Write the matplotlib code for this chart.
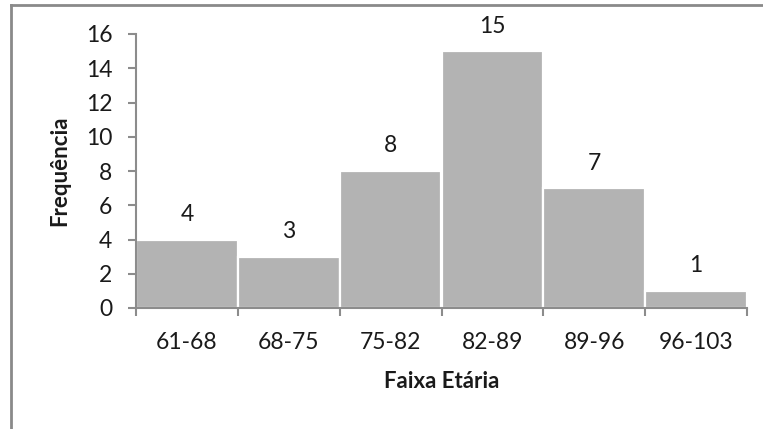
import matplotlib
matplotlib.use("Agg")
import matplotlib.pyplot as plt
from matplotlib.lines import Line2D
import numpy as np

# Age-group frequencies
categories = ["61-68", "68-75", "75-82", "82-89", "89-96", "96-103"]
frequencies = [4, 3, 8, 15, 7, 1]
y_ticks = [0, 2, 4, 6, 8, 10, 12, 14, 16]

plt.rcParams["font.family"] = ["Lato", "DejaVu Sans"]
text_color = "#1a1a1a"
axis_color = "#8c8c8c"
bar_color = "#b3b3b3"
tick_size = 16.5
title_size = 16

fig = plt.figure(figsize=(7.63, 4.29), dpi=100)
ax = fig.add_axes([136 / 763, 1 - 308 / 429, (747 - 136) / 763, (308 - 34) / 429])

x = np.arange(len(categories))
ax.bar(x, frequencies, width=1.0, color=bar_color, edgecolor="white", linewidth=1.6, zorder=2)

for xi, v in zip(x, frequencies):
    ax.annotate(str(v), (xi, v), xytext=(0, 18), textcoords="offset points",
                ha="center", va="center", fontsize=tick_size, color=text_color)

ax.set_xlim(-0.5, len(categories) - 0.5)
ax.set_ylim(0, 16)
ax.set_yticks(y_ticks)
ax.set_xticks(x)
ax.set_xticklabels(categories)
ax.set_xticks(np.arange(len(categories) + 1) - 0.5, minor=True)

ax.tick_params(axis="x", which="major", length=0, pad=17, labelsize=tick_size, labelcolor=text_color)
ax.tick_params(axis="x", which="minor", length=6, width=1.5, color=axis_color, direction="out")
ax.tick_params(axis="y", length=6, width=1.5, color=axis_color, pad=11, labelsize=tick_size, labelcolor=text_color)

for side in ("top", "right"):
    ax.spines[side].set_visible(False)
for side in ("left", "bottom"):
    ax.spines[side].set_color(axis_color)
    ax.spines[side].set_linewidth(1.5)
    ax.spines[side].set_zorder(3)

ax.set_xlabel("Faixa Etária", fontsize=title_size, fontweight="bold", color=text_color, labelpad=13)
ax.set_ylabel("Frequência", fontsize=title_size, fontweight="bold", color=text_color, labelpad=11)

# Outer chart frame (top and left edges)
fig.add_artist(Line2D([11 / 763, 11 / 763], [0, 1 - 5 / 429], transform=fig.transFigure,
                      color="#8a8a8a", linewidth=2))
fig.add_artist(Line2D([11 / 763, 1], [1 - 5 / 429, 1 - 5 / 429], transform=fig.transFigure,
                      color="#8a8a8a", linewidth=2))

fig.savefig("out.png", dpi=100)
